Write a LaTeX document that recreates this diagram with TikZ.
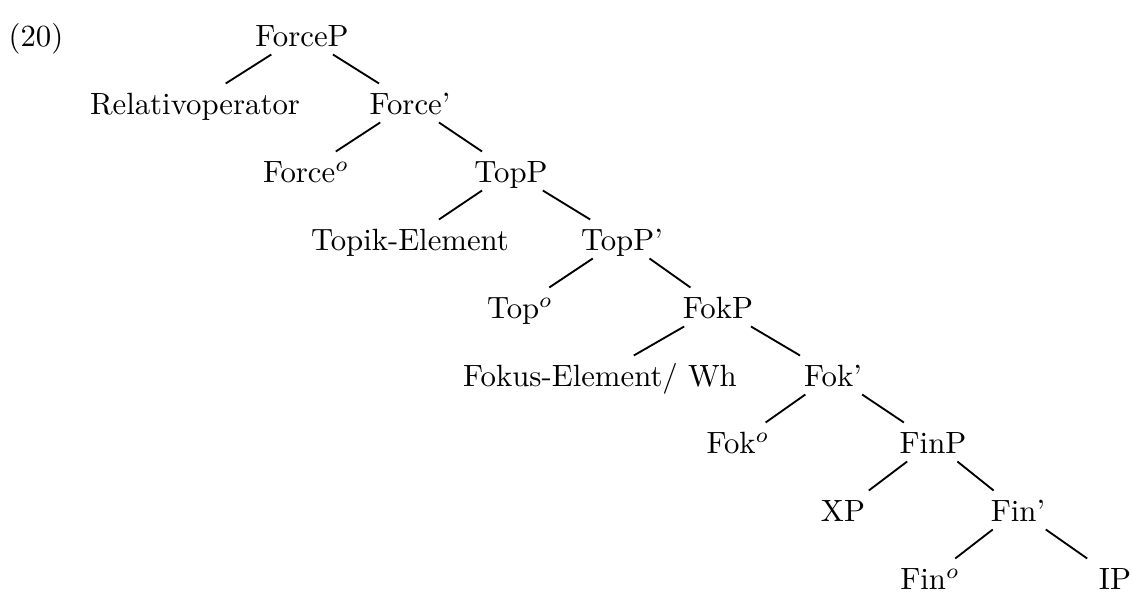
\documentclass[tikz,border=0pt]{standalone}
\begin{document}
\begin{tikzpicture}[x=0.3251pt,y=-0.3251pt,
  cat/.style={anchor=base, inner xsep=4pt, inner ysep=2.44pt, text height=7.8pt, text depth=0pt, outer sep=0pt},
  branch/.style={line width=0.6pt}]
\useasboundingbox (0,0) rectangle (1133,592);
\node[anchor=base west, inner sep=0pt] (ex) at (8,47) {(20)};
\node[cat] (forcep)   at (302,47)  {ForceP};
\node[cat] (relop)    at (195,115) {Relativoperator};
\node[cat] (forcebar) at (410,115) {Force'};
\node[cat] (force0)   at (306,183) {Force$^o$};
\node[cat] (topp)     at (511,183) {TopP};
\node[cat] (topik)    at (410,251) {Topik-Element};
\node[cat] (toppbar)  at (622,251) {TopP'};
\node[cat] (top0)     at (520,319) {Top$^o$};
\node[cat] (fokp)     at (718,319) {FokP};
\node[cat] (fokus)    at (600,387) {Fokus-Element/ Wh};
\node[cat] (fokbar)   at (833,387) {Fok'};
\node[cat] (fok0)     at (738,454) {Fok$^o$};
\node[cat] (finp)     at (933,454) {FinP};
\node[cat] (xp)       at (843,522) {XP};
\node[cat] (finbar)   at (1018,522) {Fin'};
\node[cat] (fin0)     at (930,590) {Fin$^o$};
\node[cat] (ip)       at (1115,590) {IP};
\draw[branch] (forcep) -- (relop);
\draw[branch] (forcep) -- (forcebar);
\draw[branch] (forcebar) -- (force0);
\draw[branch] (forcebar) -- (topp);
\draw[branch] (topp) -- (topik);
\draw[branch] (topp) -- (toppbar);
\draw[branch] (toppbar) -- (top0);
\draw[branch] (toppbar) -- (fokp);
\draw[branch] (fokp) -- (fokus);
\draw[branch] (fokp) -- (fokbar);
\draw[branch] (fokbar) -- (fok0);
\draw[branch] (fokbar) -- (finp);
\draw[branch] (finp) -- (xp);
\draw[branch] (finp) -- (finbar);
\draw[branch] (finbar) -- (fin0);
\draw[branch] (finbar) -- (ip);
\end{tikzpicture}
\end{document}
